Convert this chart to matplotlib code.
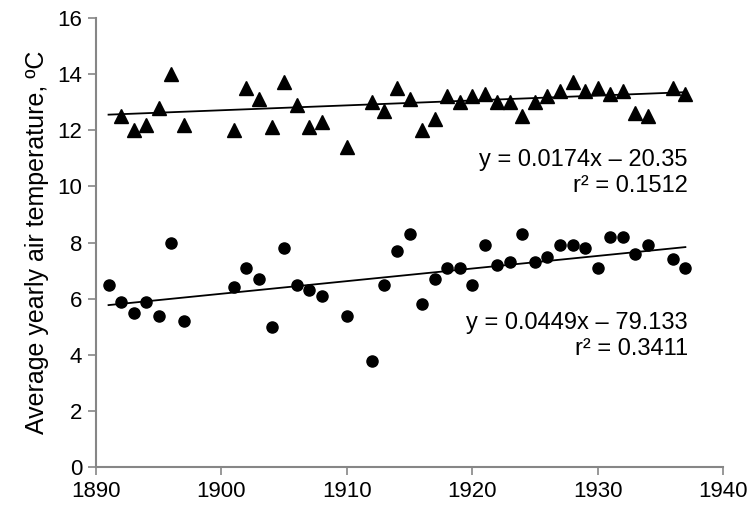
import numpy as np
import matplotlib.pyplot as plt

plt.rcParams['font.family'] = ['Liberation Sans', 'DejaVu Sans']

# lower series (circles)
years_c = [1891, 1892, 1893, 1894, 1895, 1896, 1897, 1901, 1902, 1903, 1904,
           1905, 1906, 1907, 1908, 1910, 1912, 1913, 1914, 1915, 1916, 1917,
           1918, 1919, 1920, 1921, 1922, 1923, 1924, 1925, 1926, 1927, 1928,
           1929, 1930, 1931, 1932, 1933, 1934, 1936, 1937]
temp_c = [6.5, 5.9, 5.5, 5.9, 5.4, 8.0, 5.2, 6.4, 7.1, 6.7, 5.0,
          7.8, 6.5, 6.3, 6.1, 5.4, 3.8, 6.5, 7.7, 8.3, 5.8, 6.7,
          7.1, 7.1, 6.5, 7.9, 7.2, 7.3, 8.3, 7.3, 7.5, 7.9, 7.9,
          7.8, 7.1, 8.2, 8.2, 7.6, 7.9, 7.4, 7.1]

# upper series (triangles)
years_t = [1892, 1893, 1894, 1895, 1896, 1897, 1901, 1902, 1903, 1904,
           1905, 1906, 1907, 1908, 1910, 1912, 1913, 1914, 1915, 1916, 1917,
           1918, 1919, 1920, 1921, 1922, 1923, 1924, 1925, 1926, 1927, 1928,
           1929, 1930, 1931, 1932, 1933, 1934, 1936, 1937]
temp_t = [12.5, 12.0, 12.2, 12.8, 14.0, 12.2, 12.0, 13.5, 13.1, 12.1,
          13.7, 12.9, 12.1, 12.3, 11.4, 13.0, 12.7, 13.5, 13.1, 12.0, 12.4,
          13.2, 13.0, 13.2, 13.3, 13.0, 13.0, 12.5, 13.0, 13.2, 13.4, 13.7,
          13.4, 13.5, 13.3, 13.4, 12.6, 12.5, 13.5, 13.3]

# trend line coefficients
slope_t, icept_t = 0.0174, -20.35
slope_c, icept_c = 0.0449, -79.133

fig = plt.figure(figsize=(7.5, 5.25), dpi=100)
ax = fig.add_axes([0.128, 0.11, 0.836, 0.856])

ax.plot(years_t, temp_t, linestyle='none', marker='^', color='black', markersize=10)
ax.plot(years_c, temp_c, linestyle='none', marker='o', color='black', markersize=8)

xl = np.array([1891, 1937])
ax.plot(xl, slope_t * xl + icept_t, color='black', linewidth=1.3)
ax.plot(xl, slope_c * xl + icept_c, color='black', linewidth=1.3)

fs = 17
ax.text(1937.2, 10.95, 'y = 0.0174x \u2013 20.35', ha='right', va='center', fontsize=fs)
ax.text(1937.2, 10.0, 'r\u00b2 = 0.1512', ha='right', va='center', fontsize=fs)
ax.text(1937.2, 5.15, 'y = 0.0449x \u2013 79.133', ha='right', va='center', fontsize=fs)
ax.text(1937.2, 4.2, 'r\u00b2 = 0.3411', ha='right', va='center', fontsize=fs)

ax.set_xlim(1890, 1940)
ax.set_ylim(0, 16)
ax.set_xticks(range(1890, 1941, 10))
ax.set_yticks(range(0, 17, 2))
ax.set_ylabel('Average yearly air temperature, \u00baC', fontsize=18, labelpad=6)

for s in ['top', 'right']:
    ax.spines[s].set_visible(False)
for s in ['left', 'bottom']:
    ax.spines[s].set_color('#868686')
    ax.spines[s].set_linewidth(1.5)
ax.tick_params(axis='both', direction='out', length=6, width=1.2, color='#868686',
               labelsize=16, pad=4)

fig.savefig('out.png', dpi=100)
